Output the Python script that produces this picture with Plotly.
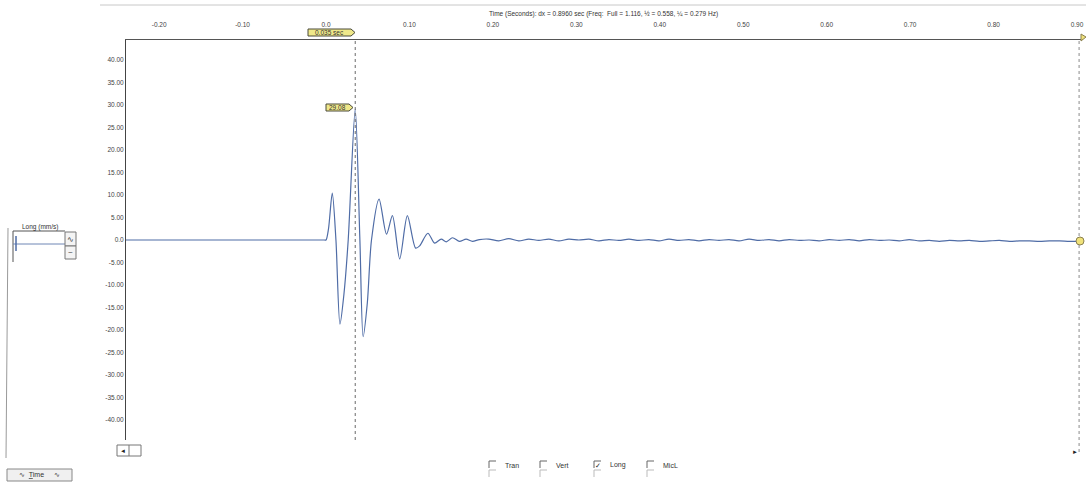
import plotly.graph_objects as go

# ---------------- data ----------------
time_s = [-0.2397, -0.10, -0.002, 0.0, 0.003, 0.0075, 0.0119, 0.0167, 0.0215, 0.0266,
          0.035, 0.0406, 0.0445, 0.0495, 0.0545, 0.0636, 0.0725, 0.0796, 0.0883, 0.0975,
          0.1074, 0.1122, 0.1221, 0.1301, 0.1381, 0.1441, 0.1516, 0.1599, 0.1679, 0.1755,
          0.1838,
          0.195, 0.207, 0.219, 0.231, 0.243, 0.255, 0.267, 0.279, 0.291, 0.303,
          0.315, 0.327, 0.339, 0.351, 0.363, 0.375, 0.387, 0.399, 0.411, 0.423,
          0.435, 0.447, 0.459, 0.471, 0.483, 0.495, 0.507, 0.519, 0.531, 0.543,
          0.555, 0.567, 0.579, 0.591, 0.603, 0.615, 0.627, 0.639, 0.651, 0.663,
          0.675, 0.687, 0.699, 0.711, 0.723, 0.735, 0.747, 0.759, 0.771, 0.783,
          0.795, 0.807, 0.819, 0.831, 0.843, 0.855, 0.867, 0.879, 0.891, 0.9025]
long_mm_s = [0.0, 0.0, 0.0, 0.0, 2.5, 10.4, 0.0, -18.7, -12.0, 0.0,
             29.08, 0.0, -21.5, -14.0, 0.0, 9.1, 1.3, 5.4, -4.2, 5.4,
             -1.8, -1.3, 1.5, -0.7, 0.2, -0.4, 0.5, -0.3, 0.2, -0.3,
             0.1,
             0.2, -0.2, 0.3, -0.2, 0.2, -0.1, 0.2, -0.2, 0.2, 0.0,
             0.2, -0.2, 0.1, -0.1, 0.2, -0.1, 0.1, -0.2, 0.2, -0.1,
             0.1, -0.2, 0.1, -0.1, 0.1, -0.2, 0.2, -0.1, 0.1, -0.2,
             0.1, -0.1, 0.0, -0.2, 0.1, -0.1, 0.1, -0.2, 0.1, -0.1,
             0.0, -0.2, 0.1, -0.2, -0.1, -0.3, -0.1, -0.2, -0.1, -0.3,
             -0.2, -0.1, -0.3, -0.2, -0.2, -0.3, -0.2, -0.2, -0.3, -0.3]

x_ticks = [-0.2, -0.1, 0.0, 0.1, 0.2, 0.3, 0.4, 0.5, 0.6, 0.7, 0.8, 0.9]
x_tick_text = ["-0.20", "-0.10", "0.0", "0.10", "0.20", "0.30", "0.40", "0.50",
               "0.60", "0.70", "0.80", "0.90"]
y_ticks = [40, 35, 30, 25, 20, 15, 10, 5, 0, -5, -10, -15, -20, -25, -30, -35, -40]
y_tick_text = ["40.00", "35.00", "30.00", "25.00", "20.00", "15.00", "10.00", "5.00", "0.0",
               "-5.00", "-10.00", "-15.00", "-20.00", "-25.00", "-30.00", "-35.00", "-40.00"]

cursor_time = 0.035
cursor_label = "0.035 sec"
peak_label = "29.08"
end_time = 0.9025
title_text = "Time (Seconds): dx = 0.8960 sec (Freq:  Full = 1.116, ½ = 0.558, ¼ = 0.279 Hz)"
channels = ["Tran", "Vert", "Long", "MicL"]
checked = [False, False, True, False]

# ---------------- layout helpers ----------------
W, H = 1086, 483
L, R, T, B = 126, 1083, 40, 440
FONT = "Liberation Sans, Arial, sans-serif"


def px(x):
    return (x - L) / (R - L)


def py(y):
    return (B - y) / (B - T)


fig = go.Figure()
fig.add_trace(go.Scatter(x=time_s, y=long_mm_s, mode="lines",
                         line=dict(color="#4f6ca6", width=1.2, shape="spline", smoothing=0.8),
                         hoverinfo="skip", showlegend=False))

shapes = []
annotations = []

# cursor lines
shapes.append(dict(type="line", xref="x", yref="paper", x0=cursor_time, x1=cursor_time,
                   y0=0, y1=1, line=dict(color="#6a6a6a", width=1, dash="dot")))
shapes.append(dict(type="line", xref="x", yref="paper", x0=end_time, x1=end_time,
                   y0=-0.03, y1=1, line=dict(color="#8a8a8a", width=1, dash="dot")))


def tag(x0, x1, y0, y1, text):
    tip = x1 + 4
    ym = (y0 + y1) / 2
    path = (f"M {px(x0)},{py(y0)} L {px(x1)},{py(y0)} L {px(tip)},{py(ym)} "
            f"L {px(x1)},{py(y1)} L {px(x0)},{py(y1)} Z")
    shapes.append(dict(type="path", xref="paper", yref="paper", path=path,
                       fillcolor="#efe88a", line=dict(color="#4a4a3a", width=1)))
    annotations.append(dict(xref="paper", yref="paper", x=px((x0 + x1) / 2), y=py(ym),
                            text=text, showarrow=False, font=dict(size=6.5, color="#333",
                                                                    family=FONT),
                            xanchor="center", yanchor="middle"))


tag(308, 351, 29, 36, cursor_label)
tag(326, 349, 104, 111, peak_label)

# yellow end markers
shapes.append(dict(type="circle", xref="paper", yref="paper", x0=px(1076), x1=px(1084),
                   y0=py(237), y1=py(245), fillcolor="#f0e27a",
                   line=dict(color="#8a8050", width=1)))
shapes.append(dict(type="path", xref="paper", yref="paper",
                   path=f"M {px(1081)},{py(34)} L {px(1086)},{py(37)} L {px(1081)},{py(41)} Z",
                   fillcolor="#f0e27a", line=dict(color="#8a8050", width=1)))

# faint window border at top
shapes.append(dict(type="line", xref="paper", yref="paper", x0=px(100), x1=px(1086),
                   y0=py(5), y1=py(5), line=dict(color="#c8c8c8", width=1)))
# left panel border
shapes.append(dict(type="line", xref="paper", yref="paper", x0=px(8), x1=px(6),
                   y0=py(228), y1=py(458), line=dict(color="#9a9a9a", width=1)))

# title
annotations.append(dict(xref="paper", yref="paper", x=px(603), y=py(14), text=title_text,
                        showarrow=False, font=dict(size=6.5, color="#333", family=FONT),
                        xanchor="center", yanchor="middle"))

# left channel widget
annotations.append(dict(xref="paper", yref="paper", x=px(40), y=py(227), text="Long (mm/s)",
                        showarrow=False, font=dict(size=6.5, color="#333", family=FONT),
                        xanchor="center", yanchor="middle"))
shapes.append(dict(type="line", xref="paper", yref="paper", x0=px(13), x1=px(65),
                   y0=py(231), y1=py(231), line=dict(color="#555", width=1)))
shapes.append(dict(type="line", xref="paper", yref="paper", x0=px(13), x1=px(13),
                   y0=py(231), y1=py(262), line=dict(color="#555", width=1)))
shapes.append(dict(type="line", xref="paper", yref="paper", x0=px(13), x1=px(65),
                   y0=py(244), y1=py(244), line=dict(color="#6f86b5", width=1)))
shapes.append(dict(type="line", xref="paper", yref="paper", x0=px(16), x1=px(16),
                   y0=py(236), y1=py(251), line=dict(color="#4f6ca6", width=1.5)))
for yb0, yb1, sym in [(232, 246, "∿"), (246, 259, "~")]:
    shapes.append(dict(type="rect", xref="paper", yref="paper", x0=px(65), x1=px(76),
                       y0=py(yb0), y1=py(yb1), fillcolor="#f4f4f4",
                       line=dict(color="#777", width=1)))
    annotations.append(dict(xref="paper", yref="paper", x=px(70.5), y=py((yb0 + yb1) / 2),
                            text=sym, showarrow=False,
                            font=dict(size=8, color="#333", family=FONT),
                            xanchor="center", yanchor="middle"))

# bottom-left "Time" button
shapes.append(dict(type="rect", xref="paper", yref="paper", x0=px(7), x1=px(72),
                   y0=py(469), y1=py(481), fillcolor="#f0f0f0",
                   line=dict(color="#888", width=1)))
annotations.append(dict(xref="paper", yref="paper", x=px(39), y=py(475),
                        text="∿  <u>T</u>ime     ∿", showarrow=False,
                        font=dict(size=7, color="#333", family=FONT),
                        xanchor="center", yanchor="middle"))

# scrollbar ends
shapes.append(dict(type="rect", xref="paper", yref="paper", x0=px(117), x1=px(141),
                   y0=py(445), y1=py(456), fillcolor="rgba(0,0,0,0)",
                   line=dict(color="#777", width=1)))
shapes.append(dict(type="line", xref="paper", yref="paper", x0=px(129), x1=px(129),
                   y0=py(445), y1=py(456), line=dict(color="#777", width=1)))
annotations.append(dict(xref="paper", yref="paper", x=px(123), y=py(450.5), text="◄",
                        showarrow=False, font=dict(size=6, color="#222", family=FONT),
                        xanchor="center", yanchor="middle"))
annotations.append(dict(xref="paper", yref="paper", x=px(1075), y=py(452), text="►",
                        showarrow=False, font=dict(size=6, color="#222", family=FONT),
                        xanchor="center", yanchor="middle"))

# channel checkboxes
box_x = [492, 543, 597, 650]
for bx, name, on in zip(box_x, channels, checked):
    for row_y, col in [(465, "#666"), (474, "#bbb")]:
        shapes.append(dict(type="line", xref="paper", yref="paper", x0=px(bx - 3),
                           x1=px(bx + 4), y0=py(row_y - 4), y1=py(row_y - 4),
                           line=dict(color=col, width=1)))
        shapes.append(dict(type="line", xref="paper", yref="paper", x0=px(bx - 3),
                           x1=px(bx - 3), y0=py(row_y - 4), y1=py(row_y + 3),
                           line=dict(color=col, width=1)))
    annotations.append(dict(xref="paper", yref="paper", x=px(bx + 11), y=py(465), text=name,
                            showarrow=False, font=dict(size=7, color="#333", family=FONT),
                            xanchor="left", yanchor="middle"))
    if on:
        annotations.append(dict(xref="paper", yref="paper", x=px(bx + 1), y=py(465),
                                text="✓", showarrow=False,
                                font=dict(size=7, color="#222", family=FONT),
                                xanchor="center", yanchor="middle"))

fig.update_layout(
    width=W, height=H,
    margin=dict(l=L, r=W - R, t=T, b=H - B, pad=0),
    paper_bgcolor="white", plot_bgcolor="white",
    font=dict(family=FONT, size=6.5, color="#444"),
    shapes=shapes, annotations=annotations,
    xaxis=dict(range=[-0.2397, 0.9072], side="top", tickvals=x_ticks, ticktext=x_tick_text,
               showgrid=False, zeroline=False, showline=True, linecolor="#555", linewidth=1,
               ticks="outside", ticklen=9, tickcolor="rgba(0,0,0,0)",
               ticklabeloverflow="allow",
               tickfont=dict(size=6.5, color="#444", family=FONT)),
    yaxis=dict(range=[-44.444, 44.444], tickvals=y_ticks, ticktext=y_tick_text,
               showgrid=False, zeroline=False, showline=True, linecolor="#444", linewidth=1,
               ticks="", tickfont=dict(size=6.5, color="#444", family=FONT)),
    showlegend=False,
)

fig.write_html("out.html", config={"displayModeBar": False},
               post_script="document.body.style.margin='0';document.body.style.overflow='hidden';")
